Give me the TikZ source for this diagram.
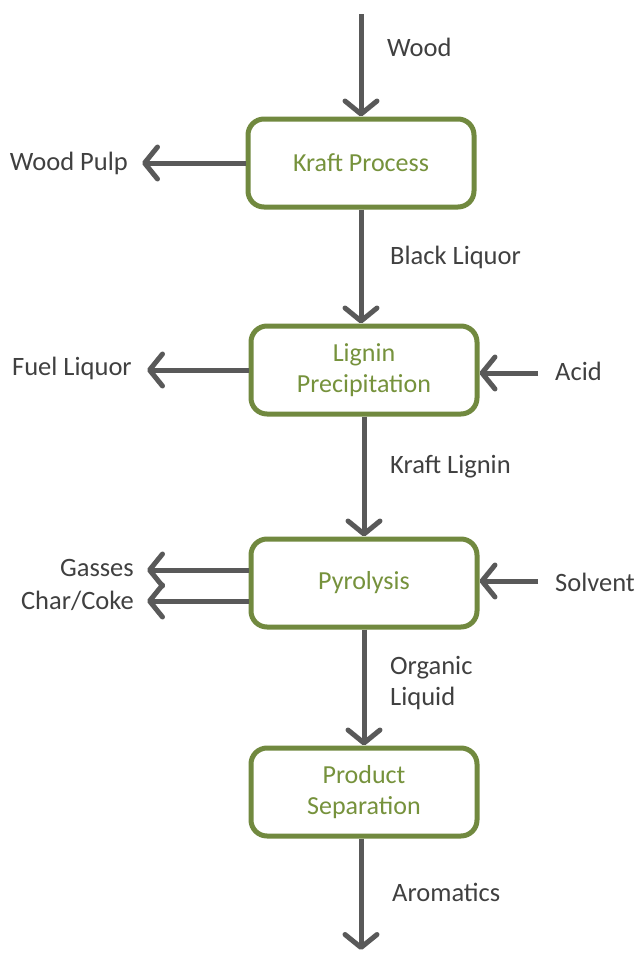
\documentclass[tikz,border=0pt]{standalone}
\usepackage{fontspec}
\setmainfont{Carlito}
\usetikzlibrary{arrows.meta}
\definecolor{boxgreen}{HTML}{71893F}
\definecolor{textgreen}{HTML}{76923C}
\definecolor{arrowgray}{HTML}{595959}
\definecolor{labelgray}{HTML}{404040}
\tikzset{
  procbox/.style={draw=boxgreen, line width=5pt, rounded corners=16pt, fill=white,
    minimum width=226pt, minimum height=88pt, inner sep=0pt, align=center,
    text=textgreen, font=\fontsize{26}{31}\selectfont},
  flow/.style={draw=arrowgray, line width=5pt, -{Straight Barb[length=13pt,width=32pt,round]}},
  lbl/.style={text=labelgray, font=\fontsize{26.5}{31}\selectfont, inner sep=0pt},
}
\begin{document}
\begin{tikzpicture}[x=1pt,y=-1pt]
\useasboundingbox (0,0) rectangle (637,953);
\node[procbox] (kraft) at (361,163) {Kraft Process};
\node[procbox] (lignin) at (364,370) {Lignin\\Precipitation};
\node[procbox] (pyro) at (364,583) {Pyrolysis};
\node[procbox] (prod) at (364,792) {Product\\Separation};

\coordinate (woodin) at (361,14);
\coordinate (aroout) at (361,950);
\coordinate (pulpout) at (142,163);
\coordinate (fuelout) at (147,370);
\coordinate (acidin) at (538,373);
\coordinate (gasout) at (147,570);
\coordinate (charout) at (147,601);
\coordinate (solvin) at (538,581);

\draw[flow] (woodin) -- (kraft.north);
\draw[flow] (kraft.south) -- (lignin.north -| kraft.south);
\draw[flow] (lignin.south) -- (pyro.north);
\draw[flow] (pyro.south) -- (prod.north);
\draw[flow] (prod.south -| aroout) -- (aroout);
\draw[flow] (kraft.west) -- (pulpout);
\draw[flow] (lignin.west) -- (fuelout);
\draw[flow] (acidin) -- (acidin -| lignin.east);
\draw[flow] (gasout -| pyro.west) -- (gasout);
\draw[flow] (charout -| pyro.west) -- (charout);
\draw[flow] (solvin) -- (solvin -| pyro.east);

\node[lbl, anchor=west] (lwood) at (387,47) {Wood};
\node[lbl, anchor=east] (lpulp) at (128,163) {Wood Pulp};
\node[lbl, anchor=west] (lblack) at (390,257) {Black Liquor};
\node[lbl, anchor=east] (lfuel) at (132,368) {Fuel Liquor};
\node[lbl, anchor=west] (lacid) at (555,371) {Acid};
\node[lbl, anchor=west] (lkl) at (390,467) {Kraft Lignin};
\node[lbl, anchor=east] (lgas) at (134,568) {Gasses};
\node[lbl, anchor=east] (lchar) at (134,601) {Char/Coke};
\node[lbl, anchor=west] (lsolv) at (555,582) {Solvent};
\node[lbl, anchor=west, align=left] (lorg) at (390,683) {Organic\\Liquid};
\node[lbl, anchor=west] (laro) at (392,892) {Aromatics};
\end{tikzpicture}
\end{document}
